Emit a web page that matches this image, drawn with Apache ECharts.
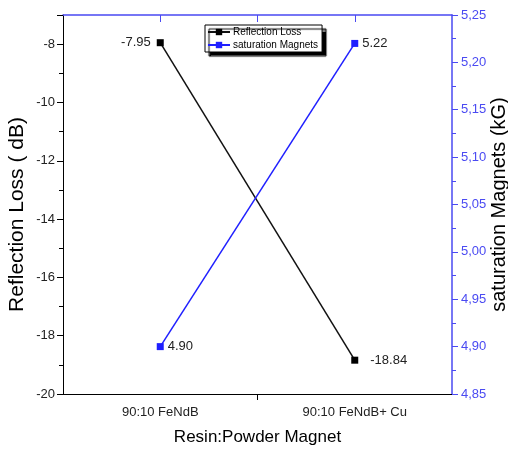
<!DOCTYPE html>
<html><head><meta charset="utf-8">
<script src="https://cdn.jsdelivr.net/npm/echarts@6/dist/echarts.min.js"></script>
<style>html,body{margin:0;padding:0;background:#fff;overflow:hidden}#c{width:508px;height:456px}</style>
</head><body><div id="c"></div>
<script>
const categories = ['90:10 FeNdB', '90:10 FeNdB+ Cu'];
const reflectionLoss = [-7.95, -18.84];
const saturation = [4.90, 5.22];
const rlLabels = ['-7.95', '-18.84'];
const satLabels = ['4.90', '5.22'];
const tickSlots = ['', '', '', '', ''];

const BLUE = '#1f1fff';
const AXBLUE = '#4a4af2';
const FONT = 'Liberation Sans, Arial, sans-serif';

const chart = echarts.init(document.getElementById('c'), null, {renderer: 'canvas', width: 508, height: 456});
const option = {
  backgroundColor: '#fff',
  animation: false,
  textStyle: {fontFamily: FONT},
  grid: {left: 63, right: 56, top: 15, bottom: 62, containLabel: false, outerBoundsMode: 'none'},
  legend: {
    orient: 'vertical', left: 205, top: 25, itemGap: 3, itemWidth: 22, itemHeight: 8,
    padding: [2, 4, 2, 2], borderColor: '#000', borderWidth: 1, backgroundColor: '#fff',
    shadowColor: '#000', shadowBlur: 1, shadowOffsetX: 4, shadowOffsetY: 4,
    textStyle: {fontSize: 10, color: '#000', fontFamily: FONT, padding: [0, 0, 0, -2]},
    data: ['Reflection Loss', 'saturation Magnets']
  },
  xAxis: [
    {
      type: 'category', data: categories, boundaryGap: true, position: 'bottom',
      axisLine: {lineStyle: {color: '#000', width: 1}},
      axisTick: {alignWithLabel: true, length: 7, lineStyle: {color: '#000'}},
      axisLabel: {fontSize: 13, color: '#222', margin: 12, fontFamily: FONT},
      name: 'Resin:Powder Magnet', nameLocation: 'middle', nameGap: 35, nameMoveOverlap: false,
      nameTextStyle: {fontSize: 17, color: '#000', fontFamily: FONT}
    },
    {
      type: 'category', data: tickSlots, boundaryGap: false, position: 'bottom',
      axisLine: {show: false},
      axisTick: {length: 6, interval: function (i) { return i === 2; }, lineStyle: {color: '#000'}},
      axisLabel: {show: false}
    },
    {
      type: 'category', data: tickSlots, boundaryGap: false, position: 'top',
      axisLine: {lineStyle: {color: AXBLUE, width: 1.5}},
      axisTick: {inside: true, length: 7, interval: function (i) { return i >= 1 && i <= 3; }, lineStyle: {color: AXBLUE}},
      axisLabel: {show: false}
    }
  ],
  yAxis: [
    {
      type: 'value', min: -20, max: -7, interval: 2, position: 'left',
      splitLine: {show: false},
      axisLine: {show: true, lineStyle: {color: '#000', width: 1}},
      axisTick: {show: true, length: 6, lineStyle: {color: '#000'}},
      minorTick: {show: true, splitNumber: 2, length: 4, lineStyle: {color: '#000'}},
      axisLabel: {fontSize: 13, color: '#222', margin: 8, showMaxLabel: false, fontFamily: FONT},
      name: 'Reflection Loss ( dB)', nameLocation: 'middle', nameGap: 35, nameMoveOverlap: false,
      nameTextStyle: {fontSize: 21, color: '#000', fontFamily: FONT, padding: [0, 20, 0, 0]}
    },
    {
      type: 'value', min: 4.85, max: 5.25, interval: 0.05, position: 'right',
      splitLine: {show: false},
      axisLine: {show: true, lineStyle: {color: AXBLUE, width: 1.5}},
      axisTick: {show: true, length: 6, lineStyle: {color: AXBLUE}},
      minorTick: {show: true, splitNumber: 2, length: 4, lineStyle: {color: AXBLUE}},
      axisLabel: {fontSize: 13, color: AXBLUE, margin: 9, fontFamily: FONT,
        formatter: function (v) { return v.toFixed(2).replace('.', ','); }},
      name: 'saturation Magnets (kG)', nameLocation: 'middle', nameGap: 37, nameMoveOverlap: false,
      nameTextStyle: {fontSize: 20, color: '#000', fontFamily: FONT}
    }
  ],
  series: [
    {
      name: 'Reflection Loss', type: 'line', xAxisIndex: 0, yAxisIndex: 0,
      symbol: 'rect', symbolSize: 7,
      lineStyle: {color: '#111', width: 1.5},
      itemStyle: {color: '#000'},
      data: reflectionLoss.map(function (v, i) {
        return {value: v, label: {show: true, position: i === 0 ? 'left' : 'right',
          distance: i === 0 ? 6 : 12, formatter: rlLabels[i]}};
      }),
      label: {fontSize: 13, color: '#222', fontFamily: FONT}
    },
    {
      name: 'saturation Magnets', type: 'line', xAxisIndex: 0, yAxisIndex: 1,
      symbol: 'rect', symbolSize: 7,
      lineStyle: {color: BLUE, width: 1.5},
      itemStyle: {color: BLUE},
      data: saturation.map(function (v, i) {
        return {value: v, label: {show: true, position: 'right', distance: 4, formatter: satLabels[i]}};
      }),
      label: {fontSize: 13, color: '#222', fontFamily: FONT}
    }
  ]
};
chart.setOption(option);
</script>
</body></html>
